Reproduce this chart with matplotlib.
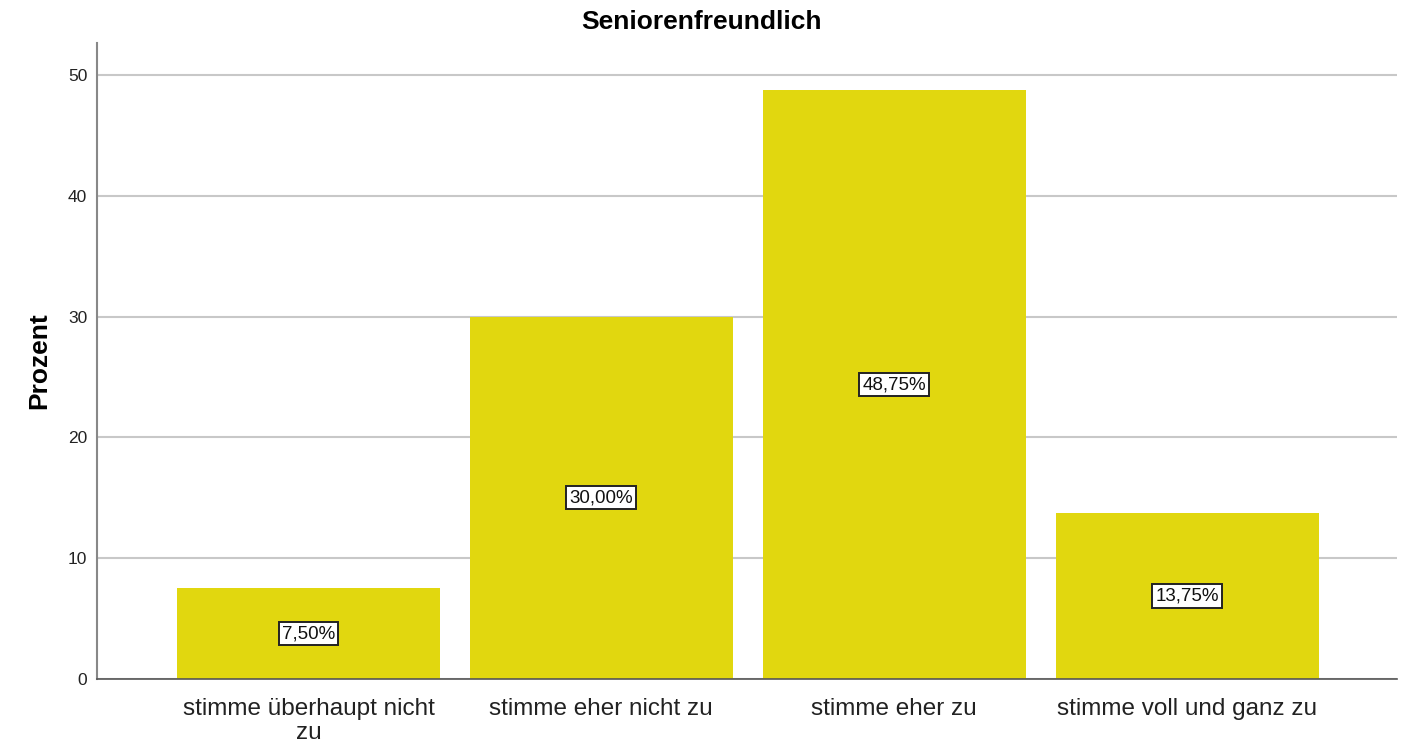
import matplotlib
matplotlib.use("Agg")
import matplotlib.pyplot as plt

categories = ["stimme überhaupt nicht\nzu", "stimme eher nicht zu", "stimme eher zu", "stimme voll und ganz zu"]
values = [7.50, 30.00, 48.75, 13.75]
labels = ["7,50%", "30,00%", "48,75%", "13,75%"]
yticks = [0, 10, 20, 30, 40, 50]

plt.rcParams['font.family'] = ['Liberation Sans', 'DejaVu Sans']

fig = plt.figure(figsize=(14.06, 7.44), dpi=100)
ax = fig.add_axes([97/1406, 1 - 679/744, 1300/1406, 636/744])

x = list(range(len(categories)))
ax.bar(x, values, width=0.898, color="#E1D70F", zorder=2)
ax.set_xlim(-0.722, 3.717)
ax.set_ylim(0, 52.65)
ax.set_yticks(yticks)
ax.yaxis.grid(True, color="#C8C8C8", linewidth=1.5, zorder=0)
ax.set_axisbelow(True)
for s in ["top", "right"]:
    ax.spines[s].set_visible(False)
ax.spines["left"].set_color("#888888")
ax.spines["bottom"].set_color("#555555")
ax.spines["left"].set_linewidth(1.5)
ax.spines["bottom"].set_linewidth(1.2)
ax.tick_params(axis="y", length=0, labelsize=12.5, pad=7, labelcolor="#222222")
ax.tick_params(axis="x", length=0, labelsize=17.5, pad=14, labelcolor="#222222")
ax.set_xticks(x)
ax.set_xticklabels(categories, linespacing=1.1)
ax.set_ylabel("Prozent", fontsize=19, fontweight="bold", labelpad=12)
fig.text(0.499, 1 - 22/744, "Seniorenfreundlich", fontsize=19, fontweight="bold",
         ha="center", va="center")

for xi, v, lab in zip(x, values, labels):
    ax.text(xi, v / 2, lab, ha="center", va="center", fontsize=13.5, color="#111111", zorder=3,
            bbox=dict(boxstyle="square,pad=0.17", facecolor="white", edgecolor="#222222", linewidth=1.4))

fig.savefig("out.png", dpi=100)
